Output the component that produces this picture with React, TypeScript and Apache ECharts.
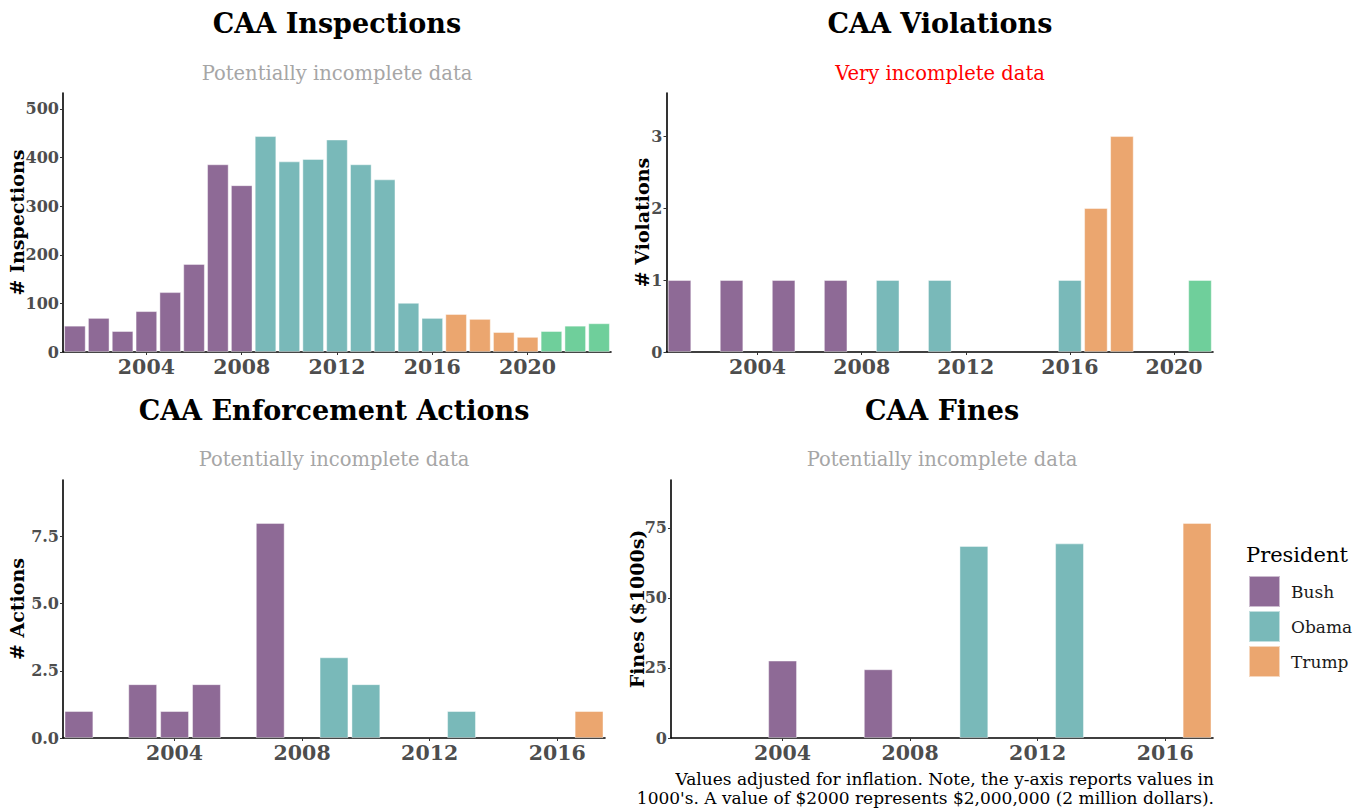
import React, { useEffect, useRef } from "react";
import * as echarts from "echarts";

// ---------- data ----------
const INSPECTION_YEARS = ["2001","2002","2003","2004","2005","2006","2007","2008","2009","2010","2011","2012","2013","2014","2015","2016","2017","2018","2019","2020","2021","2022","2023"];
const INSPECTIONS = [54, 70, 43, 84, 123, 181, 386, 343, 444, 392, 397, 437, 386, 355, 101, 70, 78, 68, 41, 31, 43, 54, 59];

const VIOLATION_YEARS = ["2001","2002","2003","2004","2005","2006","2007","2008","2009","2010","2011","2012","2013","2014","2015","2016","2017","2018","2019","2020","2021"];
const VIOLATIONS = [1, null, 1, null, 1, null, 1, null, 1, null, 1, null, null, null, null, 1, 2, 3, null, null, 1];

const ACTION_YEARS = ["2001","2002","2003","2004","2005","2006","2007","2008","2009","2010","2011","2012","2013","2014","2015","2016","2017"];
const ACTIONS = [1, null, 2, 1, 2, null, 8, null, 3, 2, null, null, 1, null, null, null, 1];

const FINE_YEARS = ["2001","2002","2003","2004","2005","2006","2007","2008","2009","2010","2011","2012","2013","2014","2015","2016","2017"];
const FINES = [null, null, null, 27.6, null, null, 24.5, null, null, 68.5, null, null, 69.4, null, null, null, 76.7];

const INSPECTION_TICKS = [0, 100, 200, 300, 400, 500];
const VIOLATION_TICKS = [0, 1, 2, 3];
const ACTION_TICKS = [0, 2.5, 5, 7.5];
const FINE_TICKS = [0, 25, 50, 75];
const X_LABEL_YEARS = ["2004", "2008", "2012", "2016", "2020"];

const PRESIDENTS = ["Bush", "Obama", "Trump", "Biden"];
const TERM_START = [2001, 2009, 2017, 2021];
const TERM_END = [2008, 2016, 2020, 2024];
const LEGEND_PRESIDENTS = ["Bush", "Obama", "Trump"];
const COLORS: Record<string, string> = {
  Bush: "#8E6A96",
  Obama: "#79B9B9",
  Trump: "#EBA66F",
  Biden: "#6FCF9B",
};

const SERIF = "'DejaVu Serif', serif";

function presidentOf(year: string) {
  const y = Number(year);
  for (let i = 0; i < PRESIDENTS.length; i++) {
    if (y >= TERM_START[i] && y <= TERM_END[i]) return PRESIDENTS[i];
  }
  return "Biden";
}

export default function App() {
  const ref = useRef<HTMLDivElement>(null);

  useEffect(() => {
    if (!ref.current) return;
    const chart = echarts.init(ref.current, undefined, { renderer: "svg" });

    const panels = [
      { years: INSPECTION_YEARS, values: INSPECTIONS, ticks: INSPECTION_TICKS, name: "# Inspections", nameGap: 37, fmt: (v: number) => String(v),
        grid: { left: 63, top: 93, width: 548, height: 259 } },
      { years: VIOLATION_YEARS, values: VIOLATIONS, ticks: VIOLATION_TICKS, name: "# Violations", nameGap: 15.5, fmt: (v: number) => String(v),
        grid: { left: 666.5, top: 93, width: 546.5, height: 259 } },
      { years: ACTION_YEARS, values: ACTIONS, ticks: ACTION_TICKS, name: "# Actions", nameGap: 37, fmt: (v: number) => v.toFixed(1),
        grid: { left: 63, top: 480, width: 542, height: 258 } },
      { years: FINE_YEARS, values: FINES, ticks: FINE_TICKS, name: "Fines ($1000s)", nameGap: 25, fmt: (v: number) => String(v),
        grid: { left: 671, top: 480, width: 542, height: 258 } },
    ];

    const grids: any[] = [];
    const xAxes: any[] = [];
    const yAxes: any[] = [];
    const series: any[] = [];

    panels.forEach((p, i) => {
      grids.push({ ...p.grid, containLabel: false });
      xAxes.push({
        type: "category",
        gridIndex: i,
        data: p.years,
        boundaryGap: true,
        axisLine: { lineStyle: { color: "#000", width: 1.6 } },
        axisTick: {
          show: true,
          length: 3,
          alignWithLabel: true,
          interval: (_idx: number, val: string) => X_LABEL_YEARS.includes(val),
          lineStyle: { color: "#333", width: 1 },
        },
        axisLabel: {
          interval: (_idx: number, val: string) => X_LABEL_YEARS.includes(val),
          color: "#4D4D4D",
          fontFamily: SERIF,
          fontWeight: "bold",
          fontSize: 20.5,
          margin: 4,
        },
        splitLine: { show: false },
      });
      const numeric = p.values.filter((v) => v !== null) as number[];
      yAxes.push({
        type: "value",
        gridIndex: i,
        min: 0,
        max: Math.max(...numeric) * 1.2,
        name: p.name,
        nameLocation: "middle",
        nameRotate: 90,
        nameGap: p.nameGap,
        nameMoveOverlap: false,
        nameTextStyle: { color: "#000", fontFamily: SERIF, fontWeight: "bold", fontSize: 19 },
        axisLine: { show: true, lineStyle: { color: "#000", width: 1.6 } },
        axisTick: { show: true, length: 3, customValues: p.ticks, lineStyle: { color: "#333", width: 1 } },
        axisLabel: {
          customValues: p.ticks,
          formatter: (v: number) => p.fmt(v),
          color: "#4D4D4D",
          fontFamily: SERIF,
          fontWeight: "bold",
          fontSize: 16,
          margin: 4,
        },
        splitLine: { show: false },
      });
      PRESIDENTS.forEach((pres) => {
        series.push({
          name: pres,
          type: "bar",
          xAxisIndex: i,
          yAxisIndex: i,
          stack: "panel" + i,
          barCategoryGap: "10%",
          data: p.years.map((y, k) => (presidentOf(y) === pres ? p.values[k] : null)),
          itemStyle: { color: COLORS[pres], borderColor: "rgba(255,255,255,0.55)", borderWidth: 0.8 },
          emphasis: { disabled: true },
        });
      });
    });

    const titleFont = `bold 27px ${SERIF}`;
    const subFont = `19.5px ${SERIF}`;
    const capFont = `17px ${SERIF}`;

    chart.setOption({
      animation: false,
      backgroundColor: "#fff",
      grid: grids,
      xAxis: xAxes,
      yAxis: yAxes,
      series,
      legend: {
        data: LEGEND_PRESIDENTS,
        orient: "vertical",
        left: 1243,
        top: 570,
        icon: "rect",
        itemWidth: 31,
        itemHeight: 31,
        itemGap: 2,
        selectedMode: false,
        textStyle: { fontFamily: SERIF, fontSize: 17, color: "#1a1a1a", padding: [0, 0, 0, 6] },
      },
      graphic: [
        { type: "text", x: 337, y: 23, style: { text: "CAA Inspections", font: titleFont, fill: "#000", textAlign: "center", textVerticalAlign: "middle" } },
        { type: "text", x: 337, y: 73, style: { text: "Potentially incomplete data", font: subFont, fill: "#A6A6A6", textAlign: "center", textVerticalAlign: "middle" } },
        { type: "text", x: 940, y: 23, style: { text: "CAA Violations", font: titleFont, fill: "#000", textAlign: "center", textVerticalAlign: "middle" } },
        { type: "text", x: 940, y: 73, style: { text: "Very incomplete data", font: subFont, fill: "#FF0000", textAlign: "center", textVerticalAlign: "middle" } },
        { type: "text", x: 334, y: 410, style: { text: "CAA Enforcement Actions", font: titleFont, fill: "#000", textAlign: "center", textVerticalAlign: "middle" } },
        { type: "text", x: 334, y: 459, style: { text: "Potentially incomplete data", font: subFont, fill: "#A6A6A6", textAlign: "center", textVerticalAlign: "middle" } },
        { type: "text", x: 942, y: 410, style: { text: "CAA Fines", font: titleFont, fill: "#000", textAlign: "center", textVerticalAlign: "middle" } },
        { type: "text", x: 942, y: 459, style: { text: "Potentially incomplete data", font: subFont, fill: "#A6A6A6", textAlign: "center", textVerticalAlign: "middle" } },
        { type: "text", x: 1246, y: 555, style: { text: "President", font: `21px ${SERIF}`, fill: "#000", textAlign: "left", textVerticalAlign: "middle" } },
        { type: "text", x: 1214, y: 779, style: { text: "Values adjusted for inflation. Note, the y-axis reports values in", font: capFont, fill: "#000", textAlign: "right", textVerticalAlign: "middle" } },
        { type: "text", x: 1214, y: 798, style: { text: "1000's. A value of $2000 represents $2,000,000 (2 million dollars).", font: capFont, fill: "#000", textAlign: "right", textVerticalAlign: "middle" } },
      ],
    });

    return () => chart.dispose();
  }, []);

  return <div ref={ref} style={{ position: "fixed", left: 0, top: 0, width: 1364, height: 808 }} />;
}
